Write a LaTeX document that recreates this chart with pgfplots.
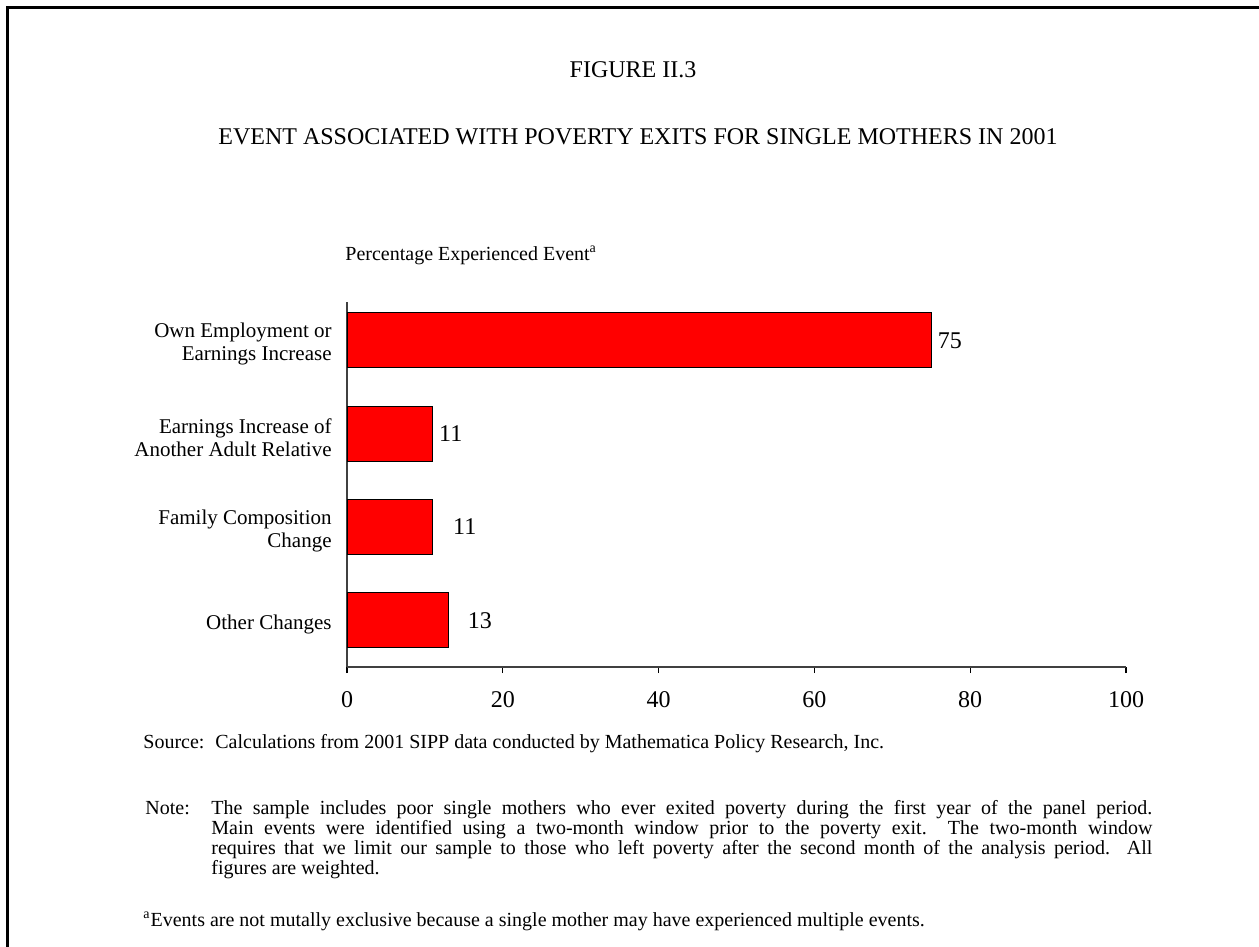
\documentclass[border=0pt]{standalone}
\usepackage{pgfplots}
\pgfplotsset{compat=1.18}
\usepackage{pgfplotstable}
\usepackage{fontspec}
\setmainfont{Liberation Serif}

% pos: category position (top = 4), val: percent, dx: gap to value label (pt)
\pgfplotstableread{
pos val dx
4 75 3
3 11 3
2 11 10
1 13 9.5
}\events

\begin{document}
\begin{tikzpicture}[x=0.5pt,y=-0.5pt]
\path[use as bounding box] (0,0) rectangle (1259,947);
\draw[line width=1.3pt] (7.5,947) -- (7.5,7.5) -- (1259,7.5);

\node[anchor=base,inner sep=0pt,font=\fontsize{12}{14}\selectfont] at (633,78) {FIGURE II.3};
\node[anchor=base,inner sep=0pt,font=\fontsize{12}{14}\selectfont] at (638,145)
  {EVENT ASSOCIATED WITH POVERTY EXITS FOR SINGLE MOTHERS IN 2001};
\node[anchor=base west,inner sep=0pt,font=\fontsize{10}{12}\selectfont] at (345,260)
  {Percentage Experienced Event\textsuperscript{a}};

\begin{axis}[
  at={(173.5pt,-333.5pt)}, anchor=south west,
  scale only axis, width=389.5pt, height=182.5pt,
  xbar, bar width=27.5pt,
  xmin=0, xmax=100, ymin=0.5, ymax=4.41,
  axis lines*=left,
  axis line style={black!75, line width=0.6pt},
  xtick={0,20,...,100}, tick align=outside, major tick length=3pt,
  xtick style={black, line width=0.6pt},
  xticklabel style={font=\fontsize{12}{14}\selectfont, inner sep=0pt, yshift=-9pt},
  /pgf/number format/assume math mode=true,
  ytick={1,2,3,4}, ytick style={draw=none},
  yticklabels={{Other Changes},{Family Composition\\Change},{Earnings Increase of\\Another Adult Relative},{Own Employment or\\Earnings Increase}},
  yticklabel style={align=right, font=\fontsize{10.5}{11.5}\selectfont, inner sep=0pt, xshift=-4.5pt, yshift=-2pt},
  visualization depends on={\thisrow{dx} \as \dx},
  nodes near coords,
  every node near coord/.append style={anchor=west, inner sep=0pt, xshift=\dx pt,
    font=\fontsize{12}{14}\selectfont},
  clip=false,
]
\addplot[fill=red, draw=black, line width=0.5pt] table[x=val, y=pos] {\events};
\end{axis}

\begin{scope}[font=\fontsize{10}{12}\selectfont]
\node[anchor=base west,inner sep=0pt] at (143,748) {Source:};
\node[anchor=base west,inner sep=0pt] at (215,748)
  {Calculations from 2001 SIPP data conducted by Mathematica Policy Research, Inc.};
\node[anchor=base west,inner sep=0pt] at (145,814) {Note:};
\node[anchor=base west,inner sep=0pt] at (211,814)
  {\makebox[470.5pt][s]{The sample includes poor single mothers who ever exited poverty during the first year of the panel period.}};
\node[anchor=base west,inner sep=0pt] at (211,834)
  {\makebox[470.5pt][s]{Main events were identified using a two-month window prior to the poverty exit.\ \ The two-month window}};
\node[anchor=base west,inner sep=0pt] at (211,854)
  {\makebox[470.5pt][s]{requires that we limit our sample to those who left poverty after the second month of the analysis period.\ \ All}};
\node[anchor=base west,inner sep=0pt] at (211,874) {figures are weighted.};
\node[anchor=base west,inner sep=0pt] at (143,926)
  {\textsuperscript{a}Events are not mutally exclusive because a single mother may have experienced multiple events.};
\end{scope}
\end{tikzpicture}
\end{document}
